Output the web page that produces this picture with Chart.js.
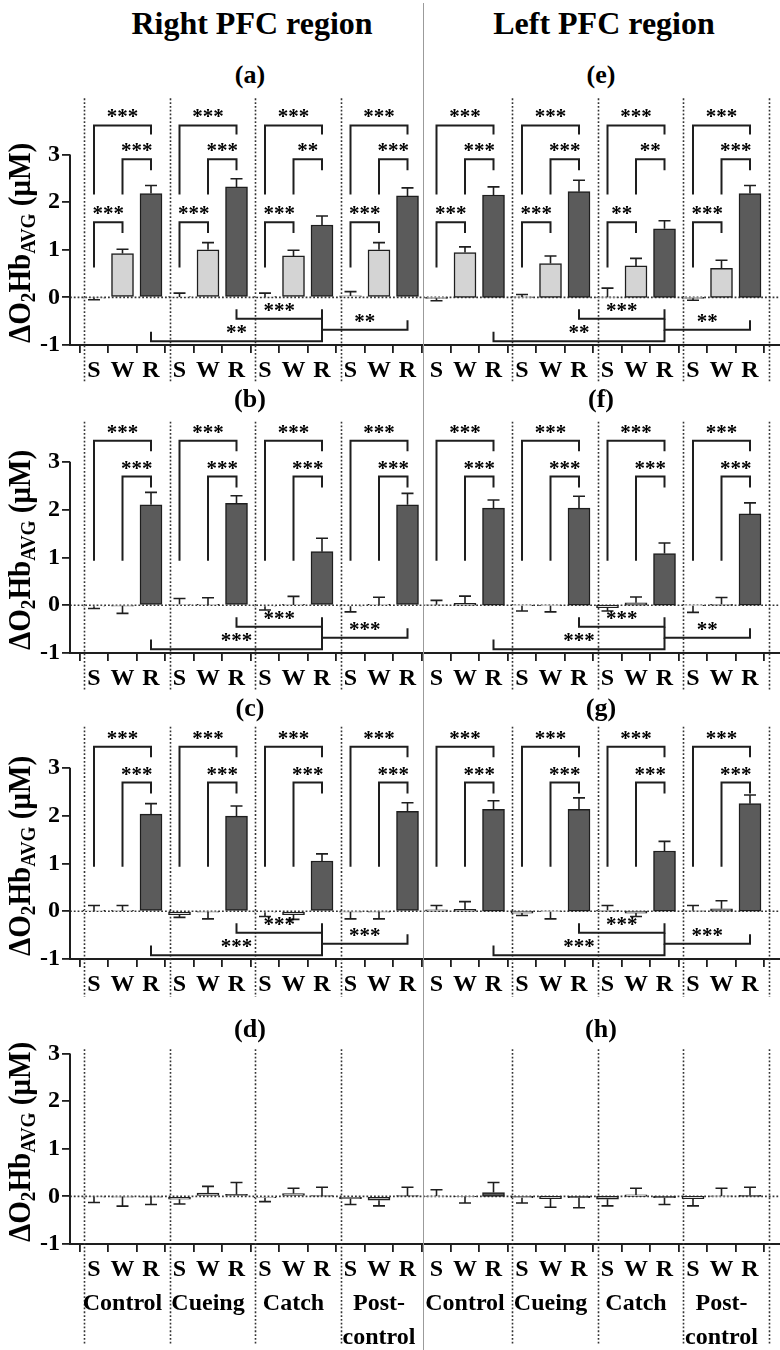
<!DOCTYPE html>
<html><head><meta charset="utf-8">
<script src="https://cdn.jsdelivr.net/npm/chart.js@4.4.1/dist/chart.umd.min.js"></script>
<style>
html,body{margin:0;padding:0;background:#fff;overflow:hidden;}
#wrap{position:relative;width:780px;height:1350px;background:#fff;font-family:'Liberation Serif','Times New Roman',serif;font-weight:bold;color:#000;}
canvas{position:absolute;}
.t{position:absolute;white-space:nowrap;line-height:1;transform:translateX(-50%);}
.yt{position:absolute;white-space:nowrap;line-height:1;font-size:31px;}
.yt sub{font-size:0.66em;line-height:0;vertical-align:-0.25em;}
#sep{position:absolute;left:422.5px;top:3px;width:1.5px;height:1347px;background:#9b9b9b;}
</style></head><body><div id="wrap"></div>
<script>
// ---------------- data ----------------
const groupNames = ['Control', 'Cueing', 'Catch', 'Post-control'];
const condLabels = ['S', 'W', 'R'];
const yTickValues = [-1, 0, 1, 2, 3];
const panelTitles = ['(a)', '(b)', '(c)', '(d)', '(e)', '(f)', '(g)', '(h)'];
const columnTitles = ['Right PFC region', 'Left PFC region'];

// mean ΔO2Hb (μM), order: Control S W R, Cueing S W R, Catch S W R, Post-control S W R
const meanA = [-0.01, 0.92, 2.18, 0.01, 1.00, 2.32, 0.01, 0.87, 1.52, 0.03, 1.00, 2.13];
const errA  = [0.04, 0.09, 0.17, 0.08, 0.15, 0.17, 0.08, 0.12, 0.19, 0.09, 0.15, 0.17];
const meanB = [-0.02, -0.01, 2.10, 0.02, 0.005, 2.13, -0.02, 0.005, 1.12, -0.02, 0.005, 2.10];
const errB  = [0.05, 0.16, 0.26, 0.12, 0.15, 0.16, 0.08, 0.18, 0.28, 0.12, 0.16, 0.24];
const meanC = [0.005, 0.005, 2.03, -0.07, -0.01, 1.99, -0.02, -0.07, 1.05, -0.01, -0.01, 2.09];
const errC  = [0.115, 0.115, 0.22, 0.06, 0.15, 0.21, 0.09, 0.10, 0.15, 0.15, 0.15, 0.18];
const meanD = [-0.01, -0.005, -0.01, -0.06, 0.07, 0.04, -0.03, 0.06, 0.005, -0.05, -0.08, 0.005];
const errD  = [0.12, 0.20, 0.16, 0.10, 0.14, 0.25, 0.08, 0.11, 0.185, 0.12, 0.12, 0.185];
const meanE = [-0.02, 0.94, 2.15, 0.01, 0.71, 2.22, 0.005, 0.66, 1.44, -0.02, 0.61, 2.18];
const errE  = [0.05, 0.12, 0.17, 0.05, 0.16, 0.24, 0.19, 0.16, 0.17, 0.04, 0.17, 0.17];
const meanF = [0.01, 0.04, 2.03, -0.01, -0.01, 2.03, -0.05, 0.05, 1.08, -0.01, 0.02, 1.91];
const errF  = [0.09, 0.15, 0.17, 0.11, 0.13, 0.25, 0.07, 0.12, 0.22, 0.14, 0.14, 0.23];
const meanG = [0.03, 0.04, 2.13, -0.04, -0.01, 2.13, 0.02, -0.04, 1.26, 0.01, 0.05, 2.25];
const errG  = [0.09, 0.16, 0.18, 0.05, 0.15, 0.24, 0.10, 0.07, 0.20, 0.11, 0.17, 0.18];
const meanH = [0.005, -0.005, 0.08, -0.03, -0.05, -0.03, -0.06, 0.03, -0.03, -0.05, 0.01, 0.02];
const errH  = [0.135, 0.135, 0.21, 0.11, 0.18, 0.21, 0.14, 0.14, 0.14, 0.15, 0.16, 0.17];

// significance per group (S vs R, W vs R, S vs W) and between groups
// between: [Cueing R vs Catch R, Control R vs Catch R, Catch R vs Post-control R]
const sigA_SR = ['***', '***', '***', '***'];
const sigA_WR = ['***', '***', '**', '***'];
const sigA_SW = ['***', '***', '***', '***'];
const sigA_between = ['***', '**', '**'];
const sigB_SR = ['***', '***', '***', '***'];
const sigB_WR = ['***', '***', '***', '***'];
const sigB_between = ['***', '***', '***'];
const sigC_SR = ['***', '***', '***', '***'];
const sigC_WR = ['***', '***', '***', '***'];
const sigC_between = ['***', '***', '***'];
const sigE_SR = ['***', '***', '***', '***'];
const sigE_WR = ['***', '***', '**', '***'];
const sigE_SW = ['***', '***', '**', '***'];
const sigE_between = ['***', '**', '**'];
const sigF_SR = ['***', '***', '***', '***'];
const sigF_WR = ['***', '***', '***', '***'];
const sigF_between = ['***', '***', '**'];
const sigG_SR = ['***', '***', '***', '***'];
const sigG_WR = ['***', '***', '***', '***'];
const sigG_between = ['***', '***', '***'];

// ---------------- layout / style ----------------
const U = 47.7;            // px per μM
const XAXIS_H = 40;
const rowZero = [298, 605, 911, 1197];
const rowYMax = [4.25, 4.0, 4.0, 3.45];
const rowDotTop = [4.18, 3.84, 3.86, 3.09];
const titleBaseline = [84, 408, 716.5, 1038];
const barColors = ['#ececec', '#d4d4d4', '#5b5b5b'];
const FONT = '"Liberation Serif","Times New Roman",serif';
// bracket geometry in data units: [line level, left leg end, right leg end]
const geomTall = { SR: [3.61, 2.16, 3.42], WR: [2.90, 2.16, 2.67], SW: [1.58, 0.63, 1.35] };
const geomShort = { SR: [3.44, 0.93, 3.22], WR: [2.69, 0.93, 2.46] };
const geomBetween = [[5, 8, -0.45, -0.25, -0.25], [2, 8, -0.92, -0.72, -0.68], [8, 11, -0.68, -0.45, -0.48]];

function buildBrackets(geom, SR, WR, SW, between) {
  const out = [];
  for (let g = 0; g < 4; g++) {
    if (SR) out.push([3 * g, 3 * g + 2, ...geom.SR, SR[g]]);
    if (WR) out.push([3 * g + 1, 3 * g + 2, ...geom.WR, WR[g]]);
    if (SW) out.push([3 * g, 3 * g + 1, ...geom.SW, SW[g]]);
  }
  if (between) geomBetween.forEach((b, k) => out.push([...b, between[k]]));
  return out;
}

const panels = [
  { col: 0, row: 0, mean: meanA, err: errA, br: buildBrackets(geomTall, sigA_SR, sigA_WR, sigA_SW, sigA_between) },
  { col: 0, row: 1, mean: meanB, err: errB, br: buildBrackets(geomShort, sigB_SR, sigB_WR, null, sigB_between) },
  { col: 0, row: 2, mean: meanC, err: errC, br: buildBrackets(geomShort, sigC_SR, sigC_WR, null, sigC_between) },
  { col: 0, row: 3, mean: meanD, err: errD, br: [] },
  { col: 1, row: 0, mean: meanE, err: errE, br: buildBrackets(geomTall, sigE_SR, sigE_WR, sigE_SW, sigE_between) },
  { col: 1, row: 1, mean: meanF, err: errF, br: buildBrackets(geomShort, sigF_SR, sigF_WR, null, sigF_between) },
  { col: 1, row: 2, mean: meanG, err: errG, br: buildBrackets(geomShort, sigG_SR, sigG_WR, null, sigG_between) },
  { col: 1, row: 3, mean: meanH, err: errH, br: [] },
];

const deco = {
  id: 'deco',
  beforeDatasetsDraw(chart, args, o) {
    const { ctx, chartArea: a, scales: { x, y } } = chart;
    ctx.save();
    ctx.strokeStyle = '#333'; ctx.lineWidth = 1.6; ctx.setLineDash([1.8, 2]);
    const y0 = y.getPixelForValue(0);
    ctx.beginPath(); ctx.moveTo(a.left, y0); ctx.lineTo(a.right, y0); ctx.stroke();
    const yTop = y.getPixelForValue(o.dotTop);
    const yBot = o.lastRow ? chart.height : a.bottom + 38;
    o.dividers.forEach(v => {
      const px = Math.round(x.getPixelForValue(v)) + 0.5;
      ctx.beginPath(); ctx.moveTo(px, yTop); ctx.lineTo(px, yBot); ctx.stroke();
    });
    ctx.restore();
  },
  afterDatasetsDraw(chart, args, o) {
    const { ctx, scales: { x, y } } = chart;
    ctx.save(); ctx.strokeStyle = '#1e1e1e'; ctx.lineWidth = 1.6; ctx.setLineDash([]);
    o.mean.forEach((m, i) => {
      const dir = m >= 0 ? 1 : -1;
      const px = x.getPixelForValue(i);
      const p0 = y.getPixelForValue(m), p1 = y.getPixelForValue(m + dir * o.err[i]);
      ctx.beginPath(); ctx.moveTo(px, p0); ctx.lineTo(px, p1);
      ctx.moveTo(px - 6, p1); ctx.lineTo(px + 6, p1); ctx.stroke();
    });
    ctx.restore();
  },
  afterDraw(chart, args, o) {
    const { ctx, chartArea: a, scales: { x, y } } = chart;
    ctx.save();
    ctx.strokeStyle = '#1e1e1e'; ctx.lineWidth = 2; ctx.setLineDash([]);
    if (o.yLine) {
      ctx.beginPath(); ctx.moveTo(a.left, y.getPixelForValue(-1)); ctx.lineTo(a.left, y.getPixelForValue(3)); ctx.stroke();
    }
    ctx.fillStyle = '#000'; ctx.textAlign = 'center'; ctx.textBaseline = 'alphabetic';
    ctx.font = 'bold 21px ' + FONT;
    o.brackets.forEach(([i1, i2, yl, l1, l2, lab]) => {
      const x1 = x.getPixelForValue(i1), x2 = x.getPixelForValue(i2);
      const py = y.getPixelForValue(yl);
      ctx.beginPath(); ctx.moveTo(x1, y.getPixelForValue(l1)); ctx.lineTo(x1, py);
      ctx.lineTo(x2, py); ctx.lineTo(x2, y.getPixelForValue(l2)); ctx.stroke();
      ctx.fillText(lab, (x1 + x2) / 2, py - 2);
    });
    if (o.lastRow) {
      ctx.font = 'bold 24px ' + FONT;
      groupNames.forEach((name, g) => {
        const cx = x.getPixelForValue(3 * g + 1);
        const cut = name.indexOf('-');
        const parts = cut >= 0 ? [name.slice(0, cut + 1), name.slice(cut + 1)] : [name];
        parts.forEach((p, k) => ctx.fillText(p, cx, a.bottom + 66 + k * 34));
      });
    }
    ctx.restore();
  }
};

const wrap = document.getElementById('wrap');
const tickCount = condLabels.length * groupNames.length;

panels.forEach((p) => {
  const padB = p.row === 3 ? 60 : 0;
  const ymax = rowYMax[p.row];
  const top = Math.round(rowZero[p.row] - ymax * U);
  const h = Math.round((ymax + 1) * U + XAXIS_H + padB);
  const left = p.col === 0 ? 0 : 423;
  const w = p.col === 0 ? 423 : 357;
  const plotLeft = p.col === 0 ? 70 : 0;
  const firstTick = p.col === 0 ? 94 : 436.5;
  const xmin = -(firstTick - left - plotLeft) / 28.5;
  const xmax = xmin + (w - plotLeft) / 28.5;
  const cv = document.createElement('canvas');
  cv.width = w; cv.height = h;
  cv.style.left = left + 'px'; cv.style.top = top + 'px';
  cv.style.width = w + 'px'; cv.style.height = h + 'px';
  wrap.appendChild(cv);
  const dividers = p.col === 0 ? [0, 1, 2, 3].map(g => 3 * g - 0.34) : [1, 2, 3, 4].map(g => 3 * g - 0.34);
  const tickFont = { size: 24, weight: 'bold', family: FONT };
  new Chart(cv, {
    type: 'bar',
    data: {
      datasets: [{
        data: p.mean.map((v, i) => ({ x: i, y: v })),
        backgroundColor: p.mean.map((v, i) => barColors[i % 3]),
        borderColor: '#1e1e1e', borderWidth: 1.5, borderSkipped: false, barThickness: 22
      }]
    },
    options: {
      responsive: false, animation: false,
      layout: { padding: { left: 0, right: 0, top: 0, bottom: padB } },
      plugins: {
        legend: { display: false }, tooltip: { enabled: false },
        deco: { mean: p.mean, err: p.err, brackets: p.br, dividers, dotTop: rowDotTop[p.row], lastRow: p.row === 3, yLine: p.col === 0 }
      },
      scales: {
        x: {
          type: 'linear', min: xmin, max: xmax, offset: false,
          afterBuildTicks: s => { s.ticks = Array.from({ length: tickCount }, (_, i) => ({ value: i })); },
          afterFit: s => { s.height = XAXIS_H; s.paddingLeft = 0; s.paddingRight = 0; },
          ticks: { autoSkip: false, maxRotation: 0, minRotation: 0, padding: 3, color: '#000', font: tickFont,
                   callback: v => condLabels[Math.round(v) % 3] },
          grid: { display: true, drawOnChartArea: false, drawTicks: true, tickLength: 8, color: '#1e1e1e', lineWidth: 1.8 },
          border: { display: true, color: '#1e1e1e', width: 2 }
        },
        y: {
          type: 'linear', display: p.col === 0, min: -1, max: ymax,
          afterBuildTicks: s => { s.ticks = yTickValues.map(v => ({ value: v })); },
          afterFit: s => { s.width = p.col === 0 ? 70 : 0; s.paddingTop = 0; s.paddingBottom = 0; },
          ticks: { padding: 2, color: '#000', font: tickFont, callback: v => String(v) },
          grid: { display: true, drawOnChartArea: false, drawTicks: true, tickLength: 8, color: '#1e1e1e', lineWidth: 1.8 },
          border: { display: false }
        }
      }
    },
    plugins: [deco]
  });
});

// HTML texts
function addText(cls, txt, x, y, size, html) {
  const d = document.createElement('div');
  d.className = cls;
  if (html) d.innerHTML = txt; else d.textContent = txt;
  d.style.left = x + 'px'; d.style.top = y + 'px';
  if (size) d.style.fontSize = size + 'px';
  wrap.appendChild(d);
  return d;
}
addText('t', columnTitles[0], 252, 34 - 0.8375 * 32, 32);
addText('t', columnTitles[1], 604, 34 - 0.8375 * 32, 32);
panelTitles.forEach((t, n) => {
  const col = n < 4 ? 0 : 1, row = n % 4;
  addText('t', t, col === 0 ? 250 : 601, titleBaseline[row] - 0.8375 * 26, 26);
});
const Y_TITLE_LEN = 200;
rowZero.forEach(z => {
  const d = addText('yt', 'ΔO<sub>2</sub>Hb<sub>AVG</sub> (μM)', 18.5, z - 55, null, true);
  const L = d.offsetWidth;
  const s = Y_TITLE_LEN / L;
  d.style.transform = 'translate(-50%,-50%) rotate(-90deg) scaleX(' + s.toFixed(3) + ')';
});
const sep = document.createElement('div'); sep.id = 'sep'; wrap.appendChild(sep);
</script></body></html>
